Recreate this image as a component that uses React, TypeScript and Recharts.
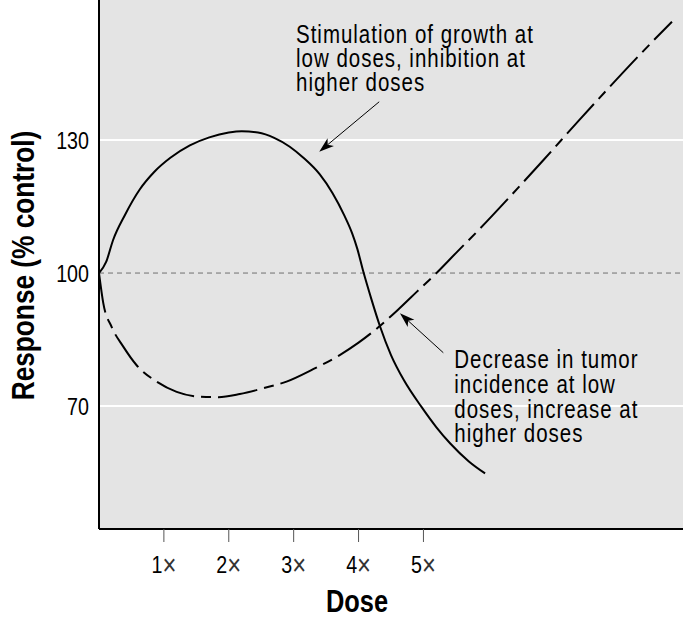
import React from "react"
import { LineChart, Line, XAxis, YAxis, CartesianGrid, ReferenceLine, ReferenceDot, Label } from "recharts"

// Liberation Sans squeezed horizontally stands in for a condensed face
const FONT = "'Liberation Sans', Arial, sans-serif"
const SQUEEZE = 0.82

// hormetic growth curve: stimulation at low doses, inhibition at higher doses
const growthDose = [0, 0.11, 0.216, 0.4, 0.63, 0.85, 1.1, 1.4, 1.7, 2.0, 2.2, 2.45, 2.7, 2.94, 3.15, 3.4, 3.6, 3.78, 3.9, 3.98, 4.07, 4.2, 4.33, 4.5, 4.7, 4.97, 5.2, 5.41, 5.7, 5.95]
const growthResponse = [100, 102.5, 107.4, 113.1, 118.9, 122.8, 126, 128.8, 130.6, 131.7, 132, 131.7, 130.5, 128.5, 126, 122.3, 118, 113, 109, 105.5, 100.5, 94, 88, 81.5, 75.8, 69.8, 65.2, 61.6, 57.5, 54.8]

// tumor incidence curve: decrease at low doses, increase at higher doses
const tumorDose = [0, 0.066, 0.196, 0.374, 0.58, 0.889, 1.197, 1.556, 1.84, 2.17, 2.53, 2.89, 3.3, 3.71, 4.0, 4.3, 4.6, 4.9, 5.18, 5.5, 5.87, 6.35, 6.85, 7.4, 7.87, 8.35, 8.83]
const tumorResponse = [100, 93.2, 87.8, 83.4, 79.2, 75.5, 73.2, 72.1, 72, 72.7, 74, 75.5, 78.3, 81.5, 84.3, 87.7, 91.6, 95.8, 99.7, 104.5, 110, 117.5, 125.5, 134.5, 142, 149.5, 156.7]

const doseTicks = [1, 2, 3, 4, 5]
const responseTicks = [70, 100, 130]
const gridValues = [70, 130]
const controlLevel = 100

const growthNote = ["Stimulation of growth at", "low doses, inhibition at", "higher doses"]
const tumorNote = ["Decrease in tumor", "incidence at low", "doses, increase at", "higher doses"]

const growthData = growthDose.map((d, i) => ({ dose: d, response: growthResponse[i] }))
const tumorData = tumorDose.map((d, i) => ({ dose: d, response: tumorResponse[i] }))

// annotation anchors, in data units
const growthNoteAt = { x: 3.036, y: 151.95 }
const tumorNoteAt = { x: 5.475, y: 78.5 }
const growthArrow = [{ x: 4.318, y: 138.64 }, { x: 3.394, y: 127.36 }]
const tumorArrow = [{ x: 5.306, y: 82.02 }, { x: 4.638, y: 90.91 }]

const Narrow = ({ x, y, size, anchor = "start", bold = false, rotate = false, spacing = 0, children }: any) => (
  <text
    transform={`translate(${x} ${y})${rotate ? " rotate(-90)" : ""} scale(${SQUEEZE} 1)`}
    textAnchor={anchor}
    fontFamily={FONT}
    fontSize={size}
    fontWeight={bold ? "bold" : "normal"}
    letterSpacing={spacing}
    fill="#000"
  >
    {children}
  </text>
)

const Arrow = (props: any) => {
  const { x1, y1, x2, y2 } = props
  const a = Math.atan2(y2 - y1, x2 - x1)
  const c = Math.cos(a)
  const s = Math.sin(a)
  const len = 15
  const half = 5
  const bx = x2 - len * c
  const by = y2 - len * s
  const nx = x2 - (len - 4) * c
  const ny = y2 - (len - 4) * s
  const pts = [
    [x2, y2],
    [bx - s * half, by + c * half],
    [nx, ny],
    [bx + s * half, by - c * half],
  ]
  return (
    <g>
      <line x1={x1} y1={y1} x2={nx} y2={ny} stroke="#000" strokeWidth={1} />
      <polygon points={pts.map((p) => p.join(",")).join(" ")} fill="#000" />
    </g>
  )
}

const note = (lines: string[], lineHeight: number) => (props: any) => {
  const { cx, cy } = props
  return (
    <text transform={`translate(${cx} ${cy}) scale(${SQUEEZE} 1)`} fontFamily={FONT} fontSize={25} letterSpacing={1.2} fill="#000">
      {lines.map((l, i) => (
        <tspan key={i} x={0} dy={i === 0 ? 0 : lineHeight}>
          {l}
        </tspan>
      ))}
    </text>
  )
}

const DoseTick = (props: any) => {
  const { x, y, payload } = props
  return (
    <Narrow x={x} y={y + 17} size={24} anchor="middle">
      {payload.value}
      <tspan fontSize={29} fill="#333" dy={2}>×</tspan>
    </Narrow>
  )
}

const ResponseTick = (props: any) => {
  const { x, y, payload } = props
  return (
    <Narrow x={x} y={y + 8.5} size={24} anchor="end">
      {payload.value}
    </Narrow>
  )
}

const YTitle = (props: any) => {
  const { viewBox } = props
  return (
    <Narrow x={viewBox.x + 34} y={viewBox.y + viewBox.height / 2 + 1} size={32} anchor="middle" bold rotate>
      Response (% control)
    </Narrow>
  )
}

const XTitle = (props: any) => {
  const { viewBox } = props
  return (
    <Narrow x={viewBox.x + 258} y={viewBox.y + 83} size={31} anchor="middle" bold>
      Dose
    </Narrow>
  )
}

export default function App() {
  return (
    <div style={{ position: "absolute", left: 0, top: 0, background: "#fff" }}>
      <LineChart width={687} height={620} margin={{ top: 0, right: 4, bottom: 0, left: 0 }} style={{ fontFamily: FONT }}>
        <CartesianGrid horizontal={false} vertical={false} fill="#e4e4e4" />
        <XAxis
          type="number"
          dataKey="dose"
          domain={[0, 9]}
          allowDataOverflow
          ticks={doseTicks}
          height={91}
          axisLine={{ stroke: "#000", strokeWidth: 2 }}
          tickLine={{ stroke: "#555", strokeWidth: 1 }}
          tickSize={13}
          tickMargin={14}
          tick={<DoseTick />}
        >
          <Label content={<XTitle />} />
        </XAxis>
        <YAxis
          type="number"
          domain={[42.25, 161.6]}
          allowDataOverflow
          ticks={responseTicks}
          width={99}
          axisLine={{ stroke: "#000", strokeWidth: 2 }}
          tickLine={false}
          tickMargin={4}
          tick={<ResponseTick />}
        >
          <Label content={<YTitle />} />
        </YAxis>
        {gridValues.map((v) => (
          <ReferenceLine key={v} y={v} stroke="#fff" strokeWidth={2} />
        ))}
        <ReferenceLine y={controlLevel} stroke="#6f6f6f" strokeWidth={1} strokeDasharray="5 4" />
        <Line
          data={growthData}
          dataKey="response"
          type="monotone"
          stroke="#000"
          strokeWidth={2}
          dot={false}
          isAnimationActive={false}
        />
        <Line
          data={tumorData}
          dataKey="response"
          type="monotone"
          stroke="#000"
          strokeWidth={2}
          strokeDasharray="40 7 10 7"
          dot={false}
          isAnimationActive={false}
        />
        <ReferenceLine segment={growthArrow} shape={Arrow} />
        <ReferenceLine segment={tumorArrow} shape={Arrow} />
        <ReferenceDot x={growthNoteAt.x} y={growthNoteAt.y} shape={note(growthNote, 24)} />
        <ReferenceDot x={tumorNoteAt.x} y={tumorNoteAt.y} shape={note(tumorNote, 24.7)} />
      </LineChart>
    </div>
  )
}
